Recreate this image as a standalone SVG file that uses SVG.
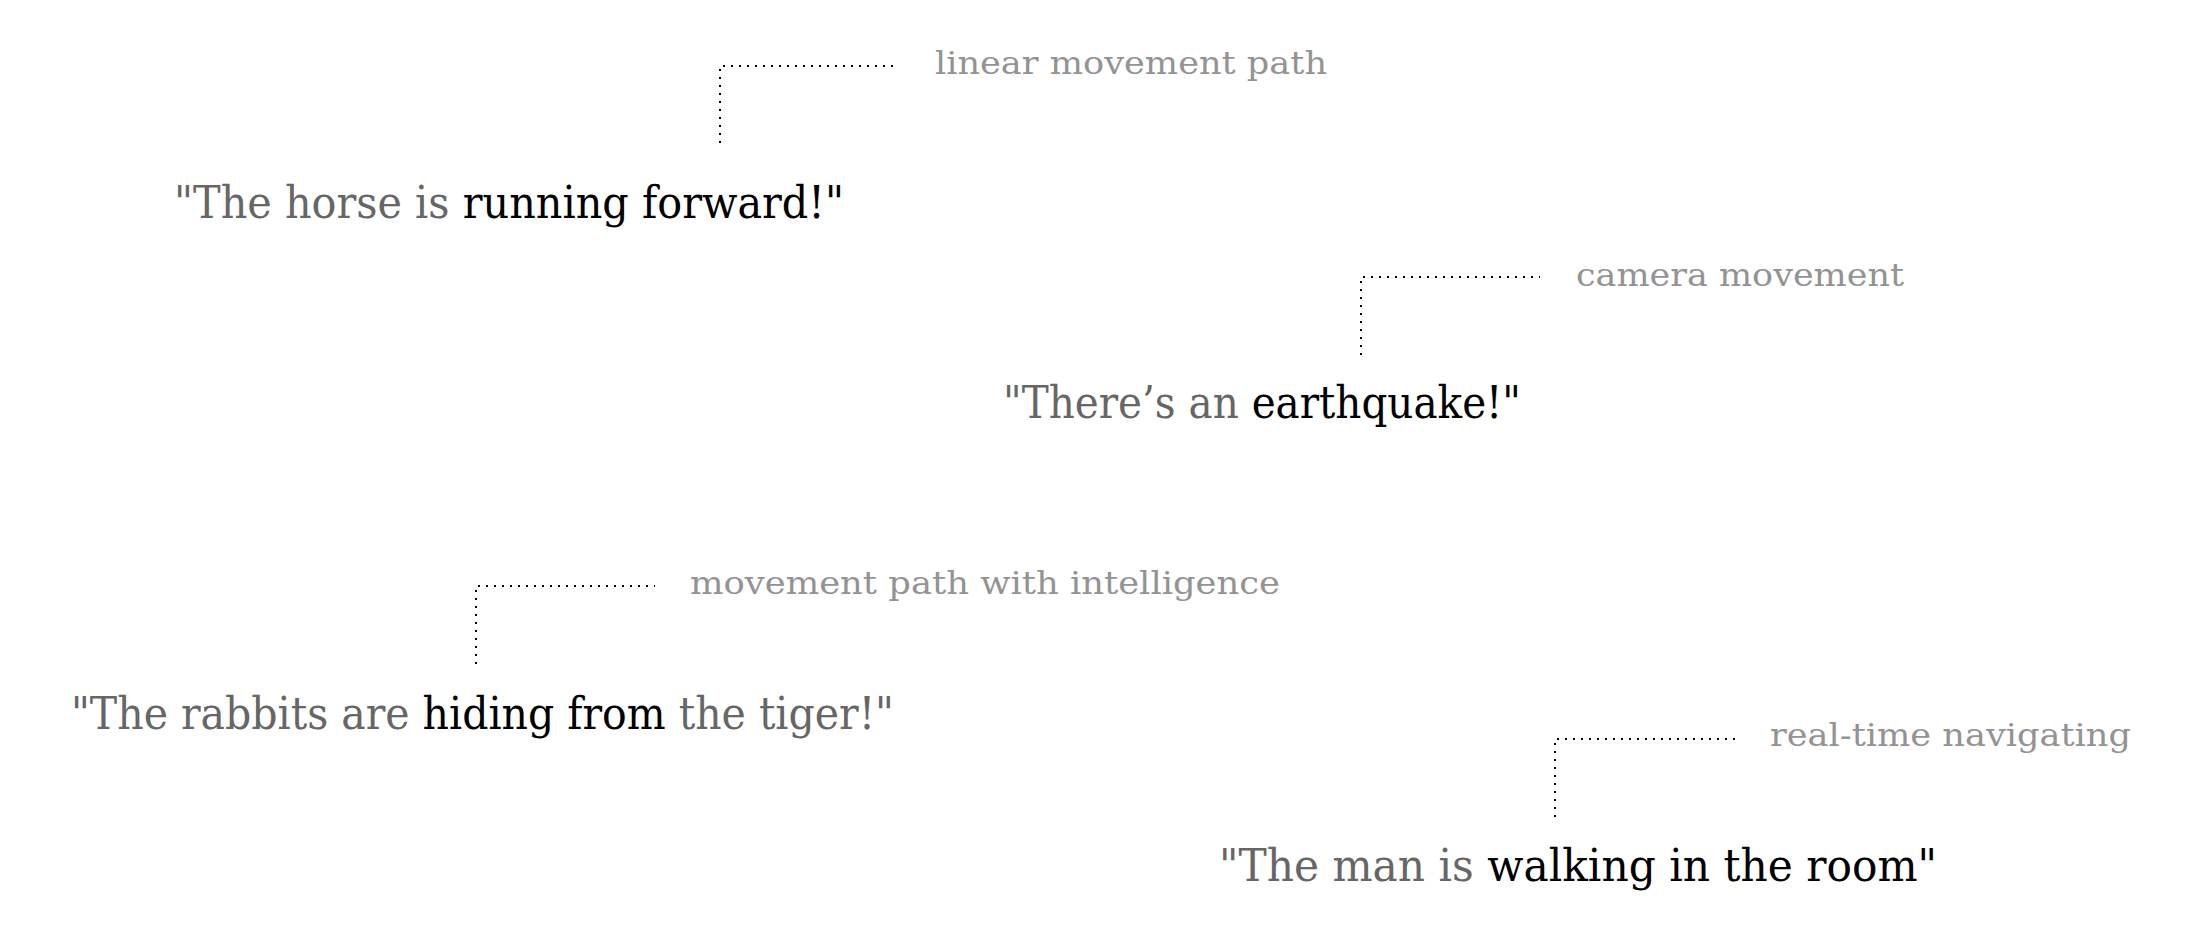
<svg xmlns="http://www.w3.org/2000/svg" width="2212" height="934" viewBox="0 0 2212 934">
<style>
.main{font-family:"DejaVu Serif","Liberation Serif",serif;font-size:44px;fill:#666666}
.em{fill:#000000}
.lbl{font-family:"DejaVu Serif","Liberation Serif",serif;font-size:32px;fill:#939393}
.conn{fill:none;stroke:#000000;stroke-width:2;stroke-dasharray:2 6}
</style>
<rect width="2212" height="934" fill="#ffffff"/>
<g id="connectors">
<path class="conn" d="M720,143 V66 H898"/>
<path class="conn" d="M1361,355 V277 H1540"/>
<path class="conn" d="M476,664 V586 H655"/>
<path class="conn" d="M1555,817 V739 H1735"/>
</g>
<g id="node-horse">
<text class="main" x="174" y="218" textLength="670" lengthAdjust="spacingAndGlyphs">"The horse is <tspan class="em">running forward!"</tspan></text>
<text class="lbl" x="935" y="74" textLength="392" lengthAdjust="spacingAndGlyphs">linear movement path</text>
</g>
<g id="node-earthquake">
<text class="main" x="1003" y="418" textLength="518" lengthAdjust="spacingAndGlyphs">"There’s an <tspan class="em">earthquake!"</tspan></text>
<text class="lbl" x="1576" y="286" textLength="328" lengthAdjust="spacingAndGlyphs">camera movement</text>
</g>
<g id="node-rabbits">
<text class="main" x="71" y="729" textLength="823" lengthAdjust="spacingAndGlyphs">"The rabbits are <tspan class="em">hiding from</tspan> the tiger!"</text>
<text class="lbl" x="690" y="594" textLength="590" lengthAdjust="spacingAndGlyphs">movement path with intelligence</text>
</g>
<g id="node-man">
<text class="main" x="1219" y="881" textLength="718" lengthAdjust="spacingAndGlyphs">"The man is <tspan class="em">walking in the room"</tspan></text>
<text class="lbl" x="1770" y="746" textLength="361" lengthAdjust="spacingAndGlyphs">real-time navigating</text>
</g>
</svg>
